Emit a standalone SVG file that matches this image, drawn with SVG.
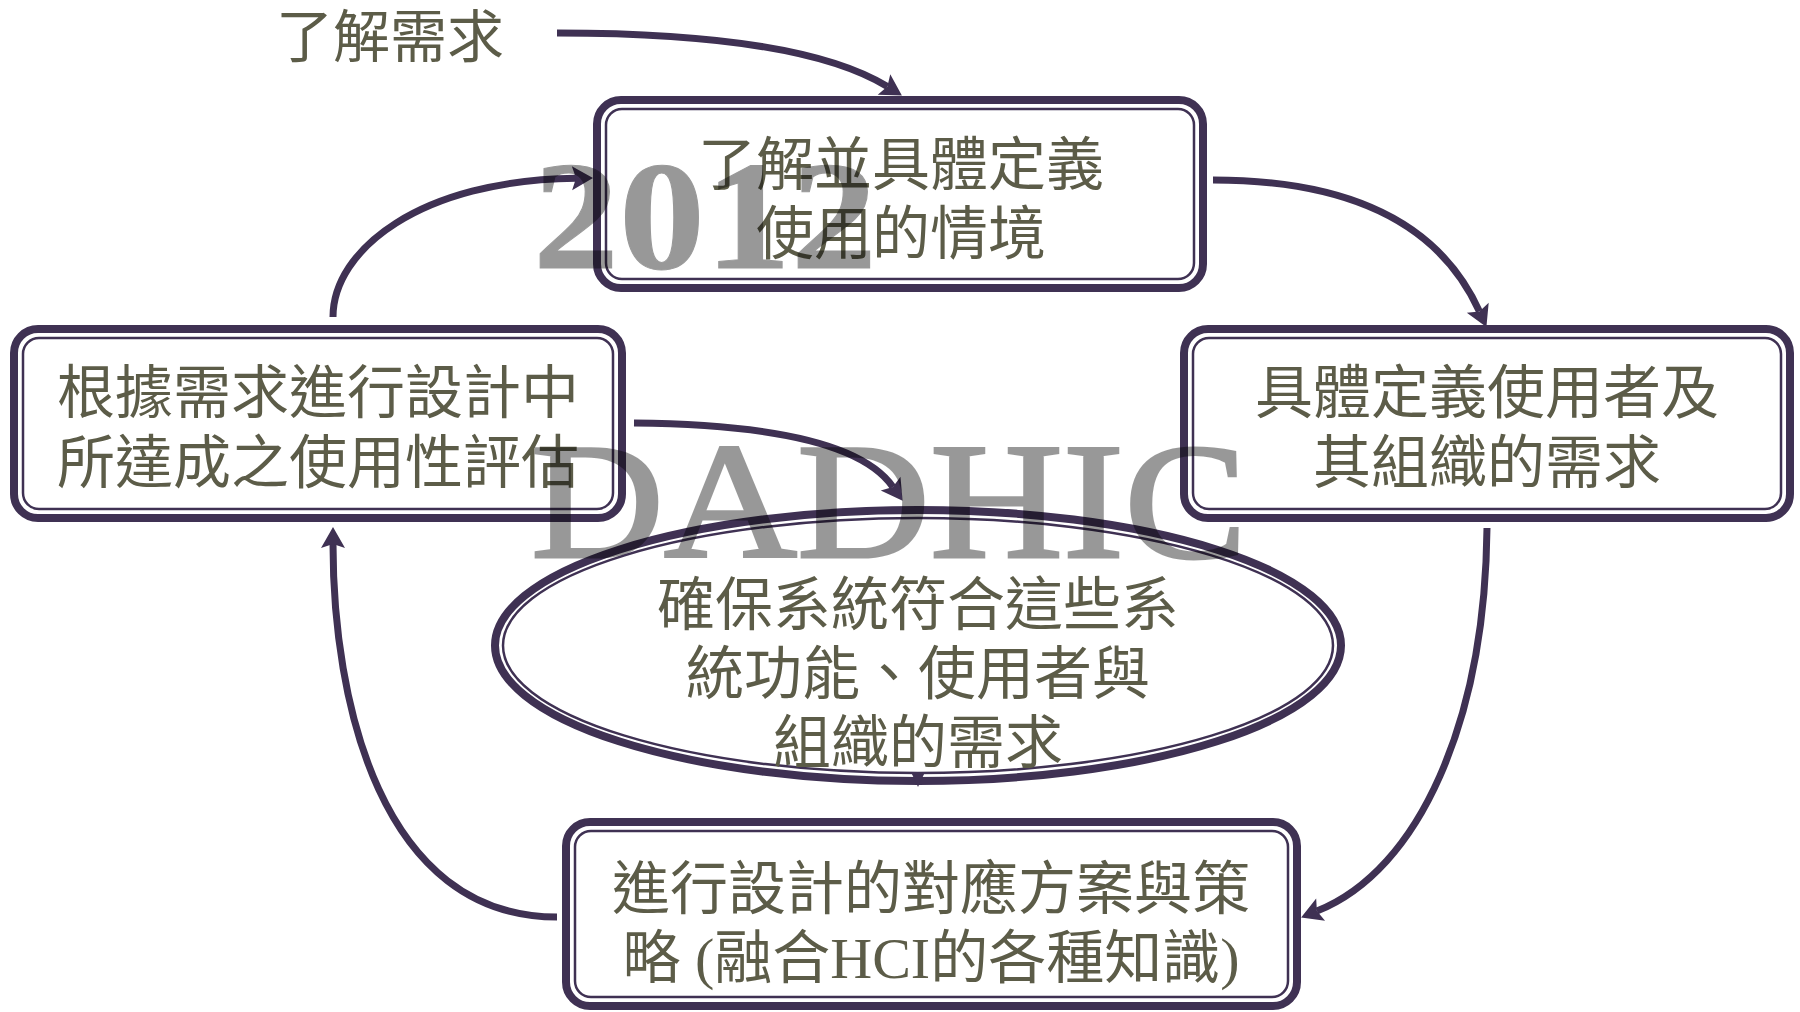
<svg xmlns="http://www.w3.org/2000/svg" width="1800" height="1012" viewBox="0 0 1800 1012">
<style>
.outer{fill:#ffffff;stroke:#3f3153;stroke-width:8}
.inner{fill:none;stroke:#3f3153;stroke-width:2.5}
.t{font-family:"Liberation Serif","Noto Sans CJK TC",serif;font-size:58px;fill:#5c5c48;text-anchor:middle}
.c{fill:none;stroke:#3f3153;stroke-width:7;marker-end:url(#ah)}
.wm{font-family:"Liberation Serif",serif;fill:#000000;stroke:#000000}
</style>
<defs>
<marker id="ah" markerUnits="userSpaceOnUse" viewBox="-6 -14 26 28" refX="0" refY="0" markerWidth="26" markerHeight="28" orient="auto" overflow="visible">
<path d="M17,0 L-4,-12 L0,0 L-4,12 Z" fill="#3f3153"/>
</marker>
</defs>
<rect width="1800" height="1012" fill="#ffffff"/>
<g id="connectors">
<path class="c" d="M557,33 Q800,33 887.4,86.6"/>
<path class="c" d="M1213,180 Q1420,180 1479.4,311.4"/>
<path class="c" d="M1487,528 C1485,720 1420,870 1316.9,911.1"/>
<path class="c" d="M557,917 C380,917 333,700 333,544"/>
<path class="c" d="M333,317 C333,250 420,180 576,178.2"/>
<path class="c" d="M634,423 Q850,425 892.9,486.9"/>
</g>
<g id="label-need">
<text x="276" y="57" class="t" style="text-anchor:start;font-size:57px">了解需求</text>
</g>
<g id="node-context">
<rect class="outer" x="597" y="100" width="606" height="188" rx="24"/>
<rect class="inner" x="606" y="109" width="588" height="170" rx="16"/>
<text class="t" x="901" y="185">了解並具體定義</text>
<text class="t" x="901" y="254">使用的情境</text>
</g>
<g id="node-requirements">
<rect class="outer" x="1184" y="329" width="606" height="189" rx="24"/>
<rect class="inner" x="1193" y="338" width="588" height="171" rx="16"/>
<text class="t" x="1487" y="413">具體定義使用者及</text>
<text class="t" x="1487" y="483">其組織的需求</text>
</g>
<g id="node-evaluation">
<rect class="outer" x="14" y="329" width="608" height="189" rx="24"/>
<rect class="inner" x="23" y="338" width="590" height="171" rx="16"/>
<text class="t" x="318" y="413">根據需求進行設計中</text>
<text class="t" x="318" y="483">所達成之使用性評估</text>
</g>
<g id="node-design">
<rect class="outer" x="566" y="822" width="731" height="184" rx="24"/>
<rect class="inner" x="575" y="831" width="713" height="166" rx="16"/>
<text class="t" x="931" y="909">進行設計的對應方案與策</text>
<text class="t" x="931" y="978">略 (融合HCI的各種知識)</text>
</g>
<g id="node-center">
<ellipse class="outer" cx="918" cy="645.5" rx="423" ry="135.5"/>
<ellipse class="inner" cx="918" cy="645.5" rx="415" ry="127.5"/>
<path d="M911,772 L925,772 L918,787 Z" fill="#3f3153"/>
<text class="t" x="918" y="625">確保系統符合這些系</text>
<text class="t" x="918" y="694">統功能、使用者與</text>
<text class="t" x="918" y="763">組織的需求</text>
</g>
<g id="watermark" opacity="0.4">
<text class="wm" x="533" y="268" font-size="155" font-weight="bold" stroke-width="1" textLength="344" lengthAdjust="spacingAndGlyphs">2012</text>
<text class="wm" x="531" y="557" font-size="166" stroke-width="3" textLength="716" lengthAdjust="spacingAndGlyphs">DADHIC</text>
</g>
</svg>
